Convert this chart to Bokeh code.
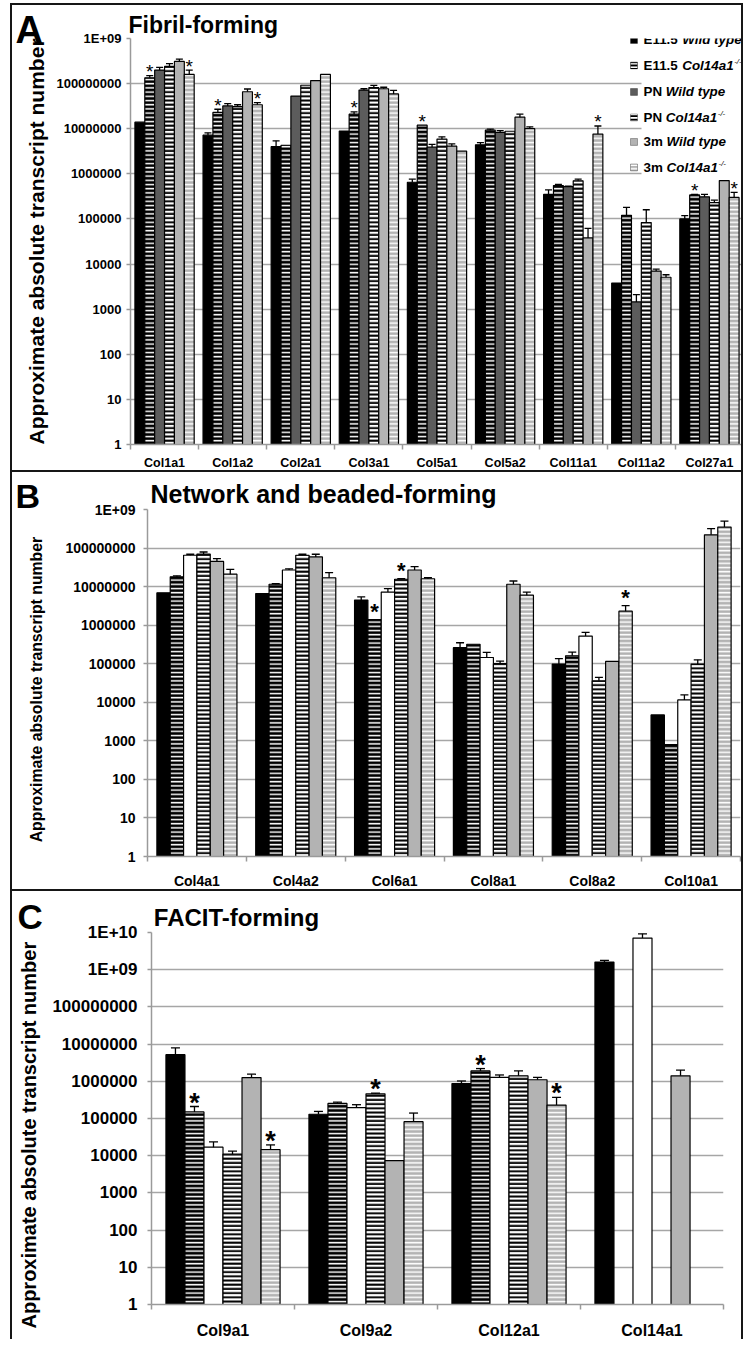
from bokeh.plotting import figure
from bokeh.models import (Range1d, FixedTicker, ColumnDataSource, Whisker, TeeHead,
                          Label, BoxAnnotation, Title, LinearAxis)
from bokeh.embed import file_html
from bokeh.resources import INLINE
from bokeh.core.properties import value

FONT = "Liberation Sans"
Y_LABEL = "Approximate absolute transcript number"

series_prefix = ["E11.5 ", "E11.5 ", "PN ", "PN ", "3m ", "3m "]
series_italic = ["Wild type", "Col14a1", "Wild type", "Col14a1", "Wild type", "Col14a1"]
series_sup = ["", "-/-", "", "-/-", "", "-/-"]

# ---------------- Panel A: Fibril-forming ----------------
a_genes = ["Col1a1", "Col1a2", "Col2a1", "Col3a1", "Col5a1", "Col5a2", "Col11a1", "Col11a2", "Col27a1"]
a_e11_wt = [1.4e7, 7.2e6, 4.0e6, 8.9e6, 6.5e5, 4.4e6, 3.5e5, 3.8e3, 1.0e5]
a_e11_ko = [1.35e8, 2.3e7, 4.3e6, 2.1e7, 1.2e7, 9.3e6, 5.5e5, 1.2e5, 3.4e5]
a_pn_wt = [2.0e8, 3.2e7, 5.3e7, 7.2e7, 3.9e6, 8.3e6, 5.2e5, 1.45e3, 3.1e5]
a_pn_ko = [2.4e8, 3.1e7, 9.2e7, 8.2e7, 5.9e6, 8.8e6, 7.0e5, 8.3e4, 2.3e5]
a_3m_wt = [3.1e8, 6.6e7, 1.17e8, 7.7e7, 4.1e6, 1.8e7, 3.8e4, 7.0e3, 7.1e5]
a_3m_ko = [1.6e8, 3.4e7, 1.6e8, 5.9e7, 3.2e6, 1.0e7, 7.6e6, 5.1e3, 3.0e5]
# upper end of the error bars (None = no visible bar)
a_e11_wt_err = [None, 8.1e6, 5.4e6, None, 7.6e5, 4.9e6, 4.4e5, None, 1.18e5]
a_e11_ko_err = [1.51e8, 2.7e7, None, 2.36e7, None, 9.8e6, 5.8e5, 1.8e5, 3.5e5]
a_pn_wt_err = [2.3e8, 3.6e7, None, 7.7e7, 4.5e6, 9.1e6, 5.3e5, 2.1e3, 3.5e5]
a_pn_ko_err = [2.76e8, 3.4e7, None, 9.1e7, 6.6e6, None, 7.6e5, 1.6e5, 2.6e5]
a_3m_wt_err = [3.5e8, 7.6e7, None, 8.3e7, 4.6e6, 2.1e7, 6.2e4, 7.7e3, None]
a_3m_ko_err = [2.0e8, 3.8e7, None, 7.1e7, None, 1.1e7, 1.15e7, 5.8e3, 3.9e5]
a_star_gene = ["Col1a1", "Col1a1", "Col1a2", "Col1a2", "Col3a1", "Col5a1", "Col11a1", "Col27a1", "Col27a1"]
a_star_series = [1, 5, 1, 5, 1, 1, 5, 1, 5]

# ---------------- Panel B: Network and beaded-forming ----------------
b_genes = ["Col4a1", "Col4a2", "Col6a1", "Col8a1", "Col8a2", "Col10a1"]
b_e11_wt = [6.9e6, 6.6e6, 4.5e6, 2.6e5, 9.8e4, 4.7e3]
b_e11_ko = [1.8e7, 1.15e7, 1.4e6, 3.2e5, 1.6e5, 8.0e2]
b_pn_wt = [6.5e7, 2.7e7, 7.2e6, 1.45e5, 5.2e5, 1.15e4]
b_pn_ko = [7.0e7, 6.5e7, 1.55e7, 1.0e5, 3.6e4, 9.8e4]
b_3m_wt = [4.5e7, 5.9e7, 2.7e7, 1.15e7, 1.15e5, 2.2e8]
b_3m_ko = [2.1e7, 1.7e7, 1.6e7, 6.0e6, 2.3e6, 3.5e8]
b_e11_wt_err = [None, None, 5.4e6, 3.5e5, 1.35e5, None]
b_e11_ko_err = [1.9e7, 1.2e7, None, None, 2.0e5, None]
b_pn_wt_err = [6.9e7, 2.9e7, 8.9e6, 1.96e5, 6.5e5, 1.55e4]
b_pn_ko_err = [7.9e7, 6.9e7, 1.6e7, 1.17e5, 4.4e4, 1.26e5]
b_3m_wt_err = [5.3e7, 6.9e7, 3.3e7, 1.4e7, None, 3.2e8]
b_3m_ko_err = [2.8e7, 2.3e7, 1.7e7, 7.2e6, 3.2e6, 5.0e8]
b_star_gene = ["Col6a1", "Col6a1", "Col8a2"]
b_star_series = [1, 3, 5]

# ---------------- Panel C: FACIT-forming ----------------
c_genes = ["Col9a1", "Col9a2", "Col12a1", "Col14a1"]
c_e11_wt = [5.2e6, 1.3e5, 8.7e5, 1.6e9]
c_e11_ko = [1.5e5, 2.55e5, 1.9e6, None]
c_pn_wt = [1.7e4, 1.95e5, 1.27e6, 7.1e9]
c_pn_ko = [1.1e4, 4.6e5, 1.4e6, None]
c_3m_wt = [1.26e6, 7.4e3, 1.1e6, 1.4e6]
c_3m_ko = [1.45e4, 8.2e4, 2.3e5, None]
c_e11_wt_err = [7.9e6, 1.55e5, 1.02e6, 1.78e9]
c_e11_ko_err = [2.1e5, 2.75e5, 2.2e6, None]
c_pn_wt_err = [2.35e4, 2.35e5, 1.48e6, 9.2e9]
c_pn_ko_err = [1.33e4, 4.8e5, 1.9e6, None]
c_3m_wt_err = [1.55e6, None, 1.27e6, 2.0e6]
c_3m_ko_err = [1.95e4, 1.4e5, 3.7e5, None]
c_star_gene = ["Col9a1", "Col9a1", "Col9a2", "Col12a1", "Col12a1"]
c_star_series = [1, 5, 3, 1, 5]

LIGHT = "#b3b3b3"
DARK = "#5c5c5c"
GRID = "#a6a6a6"
AXIS = "#9a9a9a"
BORDER = "2px solid #161616"


def bar_styles(pn_wt_fill):
    return [
        dict(fill_color="black", hatch_pattern=None),
        dict(fill_color="black", hatch_pattern="horizontal_line", hatch_color="white",
             hatch_scale=4.2, hatch_weight=1.5),
        dict(fill_color=pn_wt_fill, hatch_pattern=None),
        dict(fill_color="white", hatch_pattern="horizontal_line", hatch_color="black",
             hatch_scale=4.2, hatch_weight=2.0),
        dict(fill_color=LIGHT, hatch_pattern=None),
        dict(fill_color=LIGHT, hatch_pattern="horizontal_line", hatch_color="white",
             hatch_scale=4.2, hatch_weight=1.5),
    ]


def tick_text(k):
    return "1E+%02d" % k if k >= 9 else str(10 ** k)


def make_panel(genes, vals, errs, star_gene, star_series, g, styles, letter, title,
               D, fs, legend=False):
    n = len(genes)
    W = g["w"] - g["L"] - g["R"]
    H = g["h"] - g["T"] - g["B"]
    bw = g["bw"]

    css = {"border-top": BORDER, "border-left": BORDER, "border-right": BORDER,
           "margin-left": "10px"}
    css.update(g.get("css", {}))
    p = figure(width=g["w"], height=g["h"], y_axis_type="log",
               x_range=Range1d(0, n), y_range=Range1d(1, 10 ** D),
               min_border_left=g["L"], min_border_right=g["R"],
               min_border_top=g["T"], min_border_bottom=g["B"],
               toolbar_location=None, output_backend="svg",
               background_fill_color="white", border_fill_color="white",
               styles=css)
    p.outline_line_color = None

    def xd(px):
        return (px - g["L"]) / W * n

    def yd(py):
        return 10 ** ((g["T"] + H - py) / H * D)

    yt = [10.0 ** k for k in range(D + 1)]
    p.yaxis.ticker = FixedTicker(ticks=yt)
    p.yaxis.major_label_overrides = {10.0 ** k: tick_text(k) for k in range(D + 1)}
    p.ygrid.ticker = FixedTicker(ticks=yt)
    p.ygrid.grid_line_color = GRID
    p.ygrid.grid_line_width = 1.5
    p.xgrid.visible = False
    centers = [i + 0.5 for i in range(n)]
    p.xaxis.ticker = FixedTicker(ticks=centers, minor_ticks=list(range(n + 1)))
    p.xaxis.major_label_overrides = {i + 0.5: genes[i] for i in range(n)}
    p.xaxis.major_tick_line_color = None
    p.xaxis.major_tick_out = 0
    p.xaxis.major_tick_in = 0
    p.xaxis.minor_tick_out = 5
    p.xaxis.minor_tick_in = 0
    p.xaxis.minor_tick_line_color = AXIS
    p.xaxis.minor_tick_line_width = 1.5
    p.xaxis.major_label_standoff = fs["xstand"]
    p.yaxis.minor_tick_line_color = None
    p.yaxis.major_tick_out = 4
    p.yaxis.major_tick_in = 0
    p.yaxis.major_tick_line_color = AXIS
    p.yaxis.major_tick_line_width = 1.5
    p.yaxis.major_label_standoff = fs["ystand"]
    for ax in (p.xaxis, p.yaxis):
        ax.axis_line_color = AXIS
        ax.axis_line_width = 1.5
        ax.major_label_text_font = FONT
        ax.major_label_text_font_style = "bold"
        ax.major_label_text_color = "black"
    p.xaxis.major_label_text_font_size = fs["xlab"]
    p.yaxis.major_label_text_font_size = fs["ylab"]
    # trailing no-break spaces nudge the rotated label along the axis
    p.yaxis.axis_label = Y_LABEL + "\u00a0" * g["pad"]
    p.yaxis.axis_label_text_font = FONT
    p.yaxis.axis_label_text_font_style = "bold"
    p.yaxis.axis_label_text_font_size = fs["axis"]
    p.yaxis.axis_label_text_color = "black"
    p.yaxis.axis_label_standoff = fs["axstand"]

    for k in range(6):
        xs, tops, wx, wlo, whi = [], [], [], [], []
        for i in range(n):
            v = vals[k][i]
            if v is None:
                continue
            x = i + 0.5 + (k - 2.5) * bw
            xs.append(x)
            tops.append(v)
            e = errs[k][i]
            if e is not None:
                wx.append(x)
                wlo.append(v)
                whi.append(e)
        src = ColumnDataSource(dict(x=xs, top=tops))
        p.vbar(x="x", top="top", bottom=1, width=bw, source=src,
               line_color="black", line_width=1.2, **styles[k])
        if wx:
            wsrc = ColumnDataSource(dict(x=wx, lo=wlo, hi=whi))
            p.add_layout(Whisker(base="x", lower="lo", upper="hi", source=wsrc,
                                 line_color="black", line_width=1.3, lower_head=None,
                                 upper_head=TeeHead(size=g["cap"], line_color="black",
                                                    line_width=1.3),
                                 level="annotation"))

    sx, sy = [], []
    for gname, k in zip(star_gene, star_series):
        i = genes.index(gname)
        v = vals[k][i]
        e = errs[k][i]
        sx.append(i + 0.5 + (k - 2.5) * bw)
        sy.append(max(v, e) if e is not None else v)
    ssrc = ColumnDataSource(dict(x=sx, y=sy, t=["*"] * len(sx)))
    p.text(x="x", y="y", text="t", source=ssrc, text_align="center",
           text_baseline="alphabetic", y_offset=fs["star_off"],
           text_font=value(FONT), text_font_style=fs["star_style"],
           text_font_size=fs["star"], text_color="black")

    # ---- header: panel letter as a Title next to the frame, chart title as the
    # label of a bare axis stacked above it and pulled down level with the letter
    p.add_layout(Title(text=letter, align="left", offset=g["letter_x"] - g["L"],
                       standoff=g["l_stand"], vertical_align="bottom",
                       text_font=FONT, text_font_style="bold",
                       text_font_size=fs["letter"], text_color="black"), "above")
    tx = xd(g["title_cx"])
    ax_kw = {}
    if g["al_stand"] is not None:
        ax_kw = dict(axis_label="x", axis_label_text_alpha=0.0,
                     axis_label_text_font_size="10px", axis_label_standoff=g["al_stand"])
    top_ax = LinearAxis(ticker=FixedTicker(ticks=[tx]), major_label_overrides={tx: title},
                        axis_line_color=None, major_tick_line_color=None,
                        minor_tick_line_color=None, major_tick_out=0, major_tick_in=0,
                        major_label_standoff=g["t_stand"],
                        major_label_text_font=FONT, major_label_text_font_style="bold",
                        major_label_text_font_size=fs["title"], major_label_text_color="black",
                        **ax_kw)
    p.add_layout(top_ax, "above")

    if legend:
        p.add_layout(BoxAnnotation(left=xd(629), right=n, bottom=yd(173), top=10 ** D,
                                   fill_color="white", fill_alpha=1.0, line_color=None))
        rows = [34.5, 60.5, 87.5, 113.5, 138.5, 164.5]
        fsz = 13.4
        pw = {"E11.5 ": 2.891 * fsz, "PN ": 1.667 * fsz, "3m ": 1.723 * fsz}
        itw = 3.835 * fsz
        for k, py in enumerate(rows):
            st = dict(styles[k])
            if st.get("hatch_pattern") is None:
                st.pop("hatch_pattern", None)
            else:
                st["hatch_scale"] = 3.5
            p.add_layout(BoxAnnotation(left=xd(618), right=xd(625),
                                       bottom=yd(py + 3.5), top=yd(py - 3.5),
                                       line_color="black", line_width=1, fill_alpha=1.0,
                                       **st))
            p.add_layout(Label(x=xd(631), y=yd(py), text=series_prefix[k],
                               text_font=FONT, text_font_style="bold",
                               text_font_size="%.1fpx" % fsz, text_baseline="middle",
                               text_color="black"))
            off = pw[series_prefix[k]]
            p.add_layout(Label(x=xd(631), y=yd(py), x_offset=off, text=series_italic[k],
                               text_font=FONT, text_font_style="bold italic",
                               text_font_size="%.1fpx" % fsz, text_baseline="middle",
                               text_color="black"))
            if series_sup[k]:
                p.add_layout(Label(x=xd(631), y=yd(py - 4), x_offset=off + itw + 0.5,
                                   text=series_sup[k], text_font=FONT,
                                   text_font_style="italic", text_font_size="8px",
                                   text_baseline="middle", text_color="black"))
    return p


gA = dict(w=733, h=467, L=118, R=2, T=33, B=20, bw=0.145, cap=7, pad=0,
          letter_x=3, title_cx=190.8, l_stand=-25, t_stand=-18, al_stand=None,
          css={"margin-top": "3px"})
fA = dict(xlab="12.5px", ylab="13px", ystand=5, axis="21px", axstand=5, xstand=6,
          letter="38px", title="23px", star="19px", star_style="normal", star_off=-4)
gB = dict(w=733, h=419, L=135, R=5, T=36, B=35, bw=0.135, cap=8, pad=3,
          letter_x=3, title_cx=311, l_stand=-10, t_stand=-28, al_stand=-10)
fB = dict(xlab="14px", ylab="14px", ystand=8, axis="15.8px", axstand=17, xstand=11,
          letter="34px", title="25px", star="22px", star_style="bold", star_off=-8)
gC = dict(w=733, h=450, L=139, R=22, T=38, B=34, bw=0.133, cap=9, pad=6,
          letter_x=5, title_cx=224, l_stand=-7, t_stand=-32, al_stand=-5)
fC = dict(xlab="16px", ylab="17px", ystand=10, axis="20px", axstand=9, xstand=12,
          letter="35px", title="24px", star="27px", star_style="bold", star_off=-4)

pA = make_panel(a_genes, [a_e11_wt, a_e11_ko, a_pn_wt, a_pn_ko, a_3m_wt, a_3m_ko],
                [a_e11_wt_err, a_e11_ko_err, a_pn_wt_err, a_pn_ko_err, a_3m_wt_err, a_3m_ko_err],
                a_star_gene, a_star_series, gA, bar_styles(DARK), "A", "Fibril-forming",
                9, fA, legend=True)
pB = make_panel(b_genes, [b_e11_wt, b_e11_ko, b_pn_wt, b_pn_ko, b_3m_wt, b_3m_ko],
                [b_e11_wt_err, b_e11_ko_err, b_pn_wt_err, b_pn_ko_err, b_3m_wt_err, b_3m_ko_err],
                b_star_gene, b_star_series, gB, bar_styles("white"), "B",
                "Network and beaded-forming", 9, fB)
pC = make_panel(c_genes, [c_e11_wt, c_e11_ko, c_pn_wt, c_pn_ko, c_3m_wt, c_3m_ko],
                [c_e11_wt_err, c_e11_ko_err, c_pn_wt_err, c_pn_ko_err, c_3m_wt_err, c_3m_ko_err],
                c_star_gene, c_star_series, gC, bar_styles("white"), "C",
                "FACIT-forming", 10, fC)

# separate roots so the three frames are not forced into alignment
open("out.html", "w").write(file_html([pA, pB, pC], INLINE))
